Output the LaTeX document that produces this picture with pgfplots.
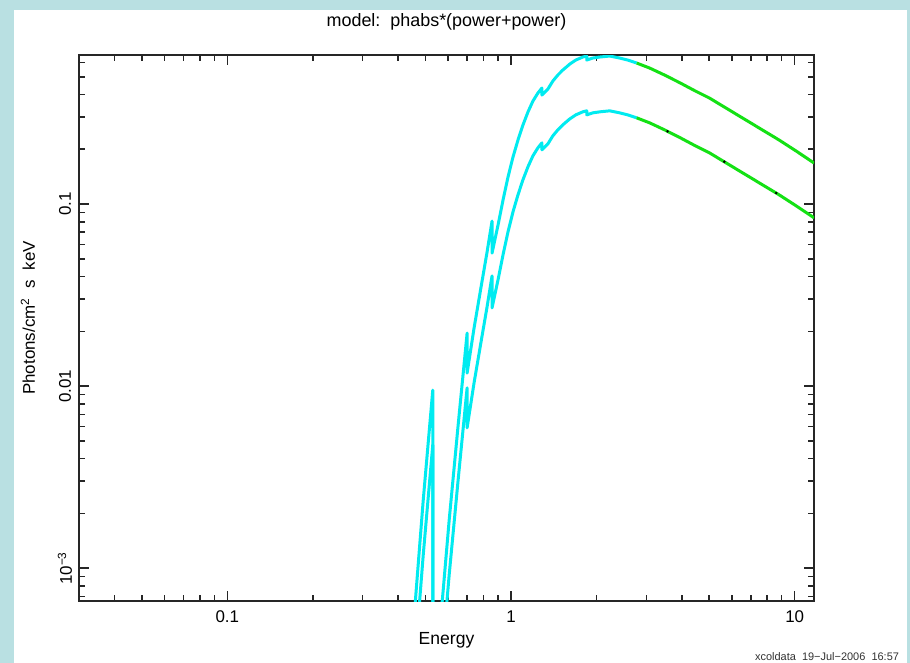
\documentclass[border=0pt]{standalone}
\usepackage{fontspec}
\setmainfont{Liberation Sans}
\usepackage{pgfplots}
\pgfplotsset{compat=1.18}
\definecolor{bgblue}{RGB}{185,224,226}
\definecolor{xcyan}{RGB}{0,235,240}
\definecolor{xgreen}{RGB}{20,225,20}
\begin{document}
\begin{tikzpicture}
\fill[bgblue] (-39.5bp,-31bp) rectangle (415.5bp,300.5bp);
\fill[white] (-32.5bp,-31bp) rectangle (414bp,295.5bp);
\begin{axis}[
  at={(0,0)}, anchor=south west,
  scale only axis, width=367.5bp, height=273bp,
  xmode=log, ymode=log,
  xmin=0.03, xmax=11.7, ymin=6.6e-4, ymax=0.659,
  axis line style={line width=1bp, black!85},
  tick style={line width=0.8bp, black!85},
  tick align=inside,
  major tick length=5bp, minor tick length=3bp,
  xtick={0.1,1,10}, xticklabels={0.1,1,10},
  minor xtick={0.03,0.04,0.05,0.06,0.07,0.08,0.09,0.2,0.3,0.4,0.5,0.6,0.7,0.8,0.9,2,3,4,5,6,7,8,9},
  ytick={0.001,0.01,0.1}, yticklabels={10\textsuperscript{−3},0.01,0.1},
  minor ytick={7e-4,8e-4,9e-4,0.002,0.003,0.004,0.005,0.006,0.007,0.008,0.009,0.02,0.03,0.04,0.05,0.06,0.07,0.08,0.09,0.2,0.3,0.4,0.5,0.6},
  xticklabel style={font=\fontsize{8.5}{10}\selectfont, anchor=center, yshift=-8bp},
  yticklabel style={font=\fontsize{8.5}{10}\selectfont, anchor=center, xshift=-7bp, rotate=90},
  title={model:\ \ phabs*(power+power)},
  every axis title/.style={at={(axis description cs:0.5,1)}, anchor=center, yshift=16.5bp, font=\fontsize{9}{11}\selectfont},
  xlabel={Energy},
  every axis x label/.style={at={(axis description cs:0.5,0)}, anchor=center, yshift=-19.5bp, font=\fontsize{8.8}{10}\selectfont},
  ylabel={Photons/cm\textsuperscript{2}\ \ s\ \ keV},
  every axis y label/.style={at={(axis description cs:0,0.5)}, xshift=-25.5bp, yshift=5bp, rotate=90, anchor=center, font=\fontsize{8.5}{10}\selectfont},
  every axis plot/.append style={line width=1.5bp, line join=round},
]
% upper model, low-energy part
\addplot[xcyan] coordinates {
(0.456,5.52e-4) (0.4905,2.364e-3) (0.53,9.51e-3) (0.53,4.0e-4)
(0.5629,4.86e-4) (0.6055,1.836e-3) (0.6512,6.105e-3) (0.7004,0.01955)
(0.7004,0.01179) (0.7410,0.02083) (0.7843,0.03499) (0.8235,0.05448)
(0.8574,0.08064) (0.8574,0.05378) (0.9000,0.07665) (0.9373,0.1052)
(0.9760,0.1407) (1.0163,0.1812) (1.0583,0.2247) (1.1019,0.2717)
(1.1474,0.3202) (1.1949,0.3681) (1.2441,0.4073) (1.2852,0.4339)
(1.2852,0.3971) (1.3495,0.4284) (1.4047,0.4741) (1.4627,0.5115)
(1.5228,0.5447) (1.6122,0.5877) (1.6925,0.6183) (1.7910,0.6423)
(1.8497,0.6504) (1.8497,0.6183) (1.9423,0.6341) (2.0555,0.6423)
(2.2284,0.6504) (2.4164,0.6341) (2.5779,0.6183) (2.7730,0.5954)
};
% upper model, high-energy part
\addplot[xgreen] coordinates {
(2.7730,0.5954) (3.0810,0.5589) (3.4777,0.5115) (3.9264,0.4650)
(4.4330,0.4205) (5.0061,0.3824) (5.8866,0.3284) (6.9199,0.2822)
(7.8115,0.2518) (8.8200,0.2247) (10.122,0.1956) (11.71,0.1680)
};
% lower model, low-energy part
\addplot[xcyan] coordinates {
(0.456,2.76e-4) (0.4905,1.182e-3) (0.53,4.755e-3) (0.53,2.0e-4)
(0.5629,2.43e-4) (0.6055,9.18e-4) (0.6512,3.053e-3) (0.7004,9.78e-3)
(0.7004,5.90e-3) (0.7410,0.01042) (0.7843,0.01750) (0.8235,0.02724)
(0.8574,0.04032) (0.8574,0.02689) (0.9000,0.03833) (0.9373,0.0526)
(0.9760,0.07035) (1.0163,0.0906) (1.0583,0.11235) (1.1019,0.13585)
(1.1474,0.1601) (1.1949,0.18405) (1.2441,0.20365) (1.2852,0.21695)
(1.2852,0.19855) (1.3495,0.2142) (1.4047,0.23705) (1.4627,0.25575)
(1.5228,0.27235) (1.6122,0.29385) (1.6925,0.30915) (1.7910,0.32115)
(1.8497,0.3252) (1.8497,0.30915) (1.9423,0.31705) (2.0555,0.32115)
(2.2284,0.3252) (2.4164,0.31705) (2.5779,0.30915) (2.7730,0.2977)
};
% lower model, high-energy part
\addplot[xgreen] coordinates {
(2.7730,0.2977) (3.0810,0.27945) (3.4777,0.25575) (3.9264,0.2325)
(4.4330,0.21025) (5.0061,0.1912) (5.8866,0.1642) (6.9199,0.1411)
(7.8115,0.1259) (8.8200,0.11235) (10.122,0.0978) (11.71,0.0840)
};
% small black data dots on the lower curve
\addplot[only marks, mark=*, mark size=0.5bp, black, line width=0.3bp] coordinates {
(3.563,0.2510) (5.65,0.1710) (8.61,0.1150)
};
\end{axis}
\node[anchor=base east, font=\fontsize{5.5}{6}\selectfont, black!80] at (413.5bp,-29.5bp) {xcoldata\ \ 19−Jul−2006\ \ 16:57};
\pgfresetboundingbox
\useasboundingbox (-39.5bp,-31bp) rectangle (415.5bp,300.5bp);
\end{tikzpicture}
\end{document}
